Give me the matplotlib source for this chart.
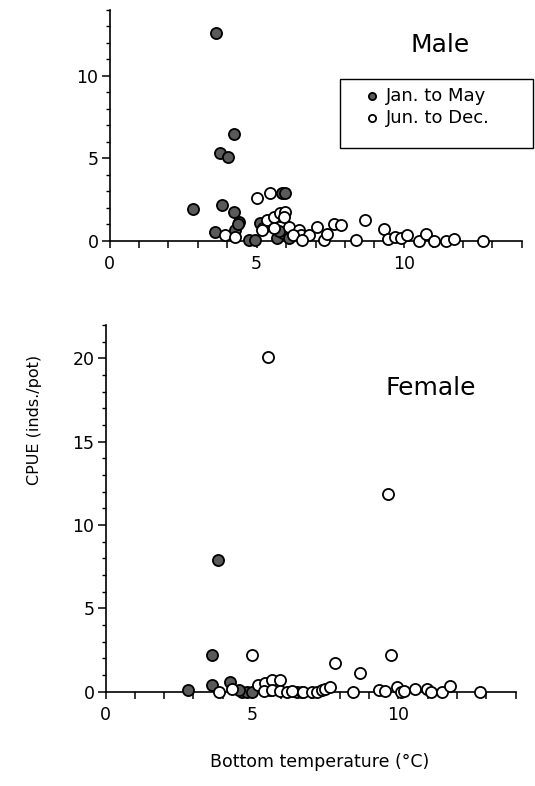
import matplotlib
matplotlib.use("Agg")
import matplotlib.pyplot as plt
from matplotlib.ticker import MultipleLocator, FixedLocator
from matplotlib.patches import Rectangle

# ---------------- data ----------------
male_jan_x = [3.63, 4.24, 3.77, 4.03, 2.84, 3.83, 4.22, 4.39, 4.28, 3.60, 4.73, 4.96,
              5.13, 5.85, 5.98, 5.80, 5.69, 5.88, 6.09, 4.35, 5.75]
male_jan_y = [12.6, 6.48, 5.3, 5.1, 1.94, 2.17, 1.76, 1.15, 0.65, 0.55, 0.05, 0.05,
              1.05, 2.88, 2.88, 1.5, 0.15, 0.45, 0.15, 1.0, 0.6]

male_jun_x = [3.94, 4.28, 5.01, 5.45, 5.22, 5.35, 5.58, 5.80, 5.98, 5.18, 5.58, 6.09,
              6.43, 6.50, 6.77, 6.24, 7.05, 7.28, 7.40, 7.62, 7.85, 8.39, 8.68, 9.32,
              9.46, 9.69, 9.91, 10.12, 10.51, 10.76, 11.02, 11.42, 11.70, 12.69, 6.54, 5.92]
male_jun_y = [0.35, 0.25, 2.6, 2.88, 0.79, 1.26, 1.46, 1.66, 1.76, 0.65, 0.75, 0.85,
              0.65, 0.35, 0.35, 0.35, 0.85, 0.05, 0.4, 1.01, 0.95, 0.05, 1.26, 0.69,
              0.08, 0.25, 0.15, 0.35, 0.0, 0.39, 0.0, 0.0, 0.08, 0.0, 0.05, 1.42]

female_jan_x = [3.83, 3.63, 2.83, 3.63, 4.26, 4.66, 4.83, 5.00, 4.55, 5.60]
female_jan_y = [7.92, 2.2, 0.1, 0.4, 0.6, 0.0, 0.0, 0.0, 0.1, 0.1]

female_jun_x = [5.54, 9.65, 9.76, 5.00, 7.85, 8.70, 3.89, 4.31, 5.22, 5.45, 5.68, 5.97,
                5.40, 5.68, 5.97, 6.20, 6.54, 6.70, 6.37, 6.76, 7.05, 7.22, 7.39, 7.50,
                7.65, 8.45, 9.33, 9.55, 9.96, 10.10, 10.20, 10.58, 10.98, 11.10, 11.50,
                11.75, 12.78]
female_jun_y = [20.06, 11.86, 2.2, 2.2, 1.7, 1.1, 0.0, 0.14, 0.4, 0.5, 0.7, 0.7,
                0.05, 0.1, 0.05, 0.0, 0.0, 0.0, 0.05, 0.0, 0.0, 0.0, 0.1, 0.15,
                0.3, 0.0, 0.1, 0.05, 0.3, 0.0, 0.05, 0.15, 0.15, 0.0, 0.0,
                0.34, 0.0]

x_major = [0, 5, 10]
x_labels = ["0", "5", "10"]
male_y_major = [0, 5, 10]
female_y_major = [0, 5, 10, 15, 20]

# ---------------- figure ----------------
W, H = 535, 786
fig = plt.figure(figsize=(W / 100, H / 100), dpi=100)
plt.rcParams['font.family'] = ['DejaVu Sans']

def px_axes(left, right, top, bottom):
    return fig.add_axes([left / W, 1 - bottom / H, (right - left) / W, (bottom - top) / H])

ax1 = px_axes(109.5, 521.5, 10, 240.7)
ax2 = px_axes(105.5, 515.5, 325, 691.7)

fill_col = "#5a5a5a"
ms = 64
lw = 1.3

for ax, jx, jy, ux, uy, ymax, ymaj in [
    (ax1, male_jan_x, male_jan_y, male_jun_x, male_jun_y, 14, male_y_major),
    (ax2, female_jan_x, female_jan_y, female_jun_x, female_jun_y, 22, female_y_major),
]:
    ax.scatter(jx, jy, s=ms, facecolor=fill_col, edgecolor="black", linewidth=lw,
               zorder=3, clip_on=False, label="Jan. to May")
    ax.scatter(ux, uy, s=ms, facecolor="white", edgecolor="black", linewidth=lw,
               zorder=4, clip_on=False, label="Jun. to Dec.")
    ax.set_xlim(0, 14)
    ax.set_ylim(0, ymax)
    for s in ["top", "right"]:
        ax.spines[s].set_visible(False)
    for s in ["left", "bottom"]:
        ax.spines[s].set_linewidth(1.2)
    ax.xaxis.set_major_locator(FixedLocator(x_major))
    ax.set_xticklabels(x_labels)
    ax.xaxis.set_minor_locator(MultipleLocator(1))
    ax.yaxis.set_major_locator(FixedLocator(ymaj))
    ax.yaxis.set_minor_locator(MultipleLocator(1))
    ax.tick_params(axis="x", which="both", direction="out", length=5, width=1.1,
                   labelsize=12.5, pad=5)
    ax.tick_params(axis="y", which="major", direction="out", length=6, width=1.1,
                   labelsize=12.5, pad=2)
    ax.tick_params(axis="y", which="minor", direction="out", length=3, width=1.0)

ax1.text(11.25, 11.9, "Male", fontsize=18, ha="center", va="center")
ax2.text(11.1, 18.2, "Female", fontsize=18, ha="center", va="center")

# legend box and entries
box = Rectangle((340 / W, 1 - 148 / H), 193 / W, 69 / H,
                transform=fig.transFigure, facecolor="white",
                edgecolor="black", linewidth=1.0, zorder=5, clip_on=False)
ax1.add_artist(box)
leg = ax1.legend(loc="upper left", bbox_to_anchor=(363 / W, 1 - 87 / H),
                 bbox_transform=fig.transFigure, frameon=False,
                 fontsize=13, markerscale=0.65,
                 handletextpad=0.25, handlelength=1.0, labelspacing=0.2,
                 borderpad=0, borderaxespad=0)
leg.set_zorder(10)

fig.text(35 / W, 1 - 420 / H, "CPUE (inds./pot)", rotation=90, fontsize=11.5,
         ha="center", va="center")
fig.text(320 / W, 1 - 762 / H, "Bottom temperature (\u00b0C)", fontsize=12.5,
         ha="center", va="center")

fig.savefig("out.png", dpi=100)
